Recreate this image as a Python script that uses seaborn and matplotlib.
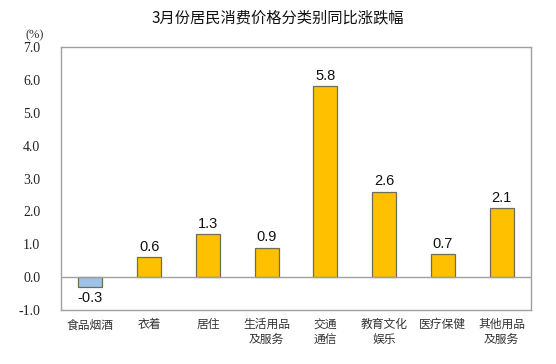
import matplotlib
matplotlib.use('Agg')
import matplotlib.pyplot as plt
import seaborn as sns
import pandas as pd

categories = ['食品烟酒', '衣着', '居住', '生活用品\n及服务', '交通\n通信', '教育文化\n娱乐', '医疗保健', '其他用品\n及服务']
values = [-0.3, 0.6, 1.3, 0.9, 5.8, 2.6, 0.7, 2.1]
yticks = [-1.0, 0.0, 1.0, 2.0, 3.0, 4.0, 5.0, 6.0, 7.0]

df = pd.DataFrame({'cat': categories, 'val': values})
colors = ['#9DC3E6' if v < 0 else '#FFC000' for v in values]

sns.set_style('white')
plt.rcParams['font.family'] = ['Noto Sans CJK SC', 'DejaVu Sans']

fig = plt.figure(figsize=(5.56, 3.64), dpi=100)
ax = fig.add_axes([61 / 556, 1 - 310 / 364, 470 / 556, 263 / 364])

sns.barplot(data=df, x='cat', y='val', hue='cat', palette=colors, legend=False,
            saturation=1, width=0.41, edgecolor='#6E6E50', linewidth=0.9, ax=ax)

ax.set_ylim(-1.0, 7.0)
ax.set_xlim(-0.5, len(categories) - 0.5)
ax.set_yticks(yticks)
ax.set_yticklabels(['%.1f' % t for t in yticks], family='Liberation Serif', fontsize=10, color='#222222')
ax.tick_params(axis='y', direction='in', length=2, color='#A0A0A0', pad=15)
ax.tick_params(axis='x', length=0, pad=6, labelsize=8.5, labelcolor='#333333')
ax.set_xlabel('')
ax.set_ylabel('')
ax.axhline(0, color='#A0A0A0', linewidth=1)
for s in ax.spines.values():
    s.set_color('#A0A0A0')
    s.set_linewidth(1)

for i, v in enumerate(values):
    off = 0.1 if v >= 0 else -0.12
    ax.text(i, v + off, '%.1f' % v, ha='center', va='bottom' if v >= 0 else 'top',
            family='Liberation Sans', fontsize=10.5, color='#111111')

fig.text(0.5, 1 - 18 / 364, '3月份居民消费价格分类别同比涨跌幅', ha='center', va='center',
         fontsize=11, color='#111111')
fig.text(25 / 556, 1 - 35 / 364, '(%)', ha='left', va='center',
         family='Liberation Serif', fontsize=9, color='#333333')

fig.savefig('out.png', dpi=100)
